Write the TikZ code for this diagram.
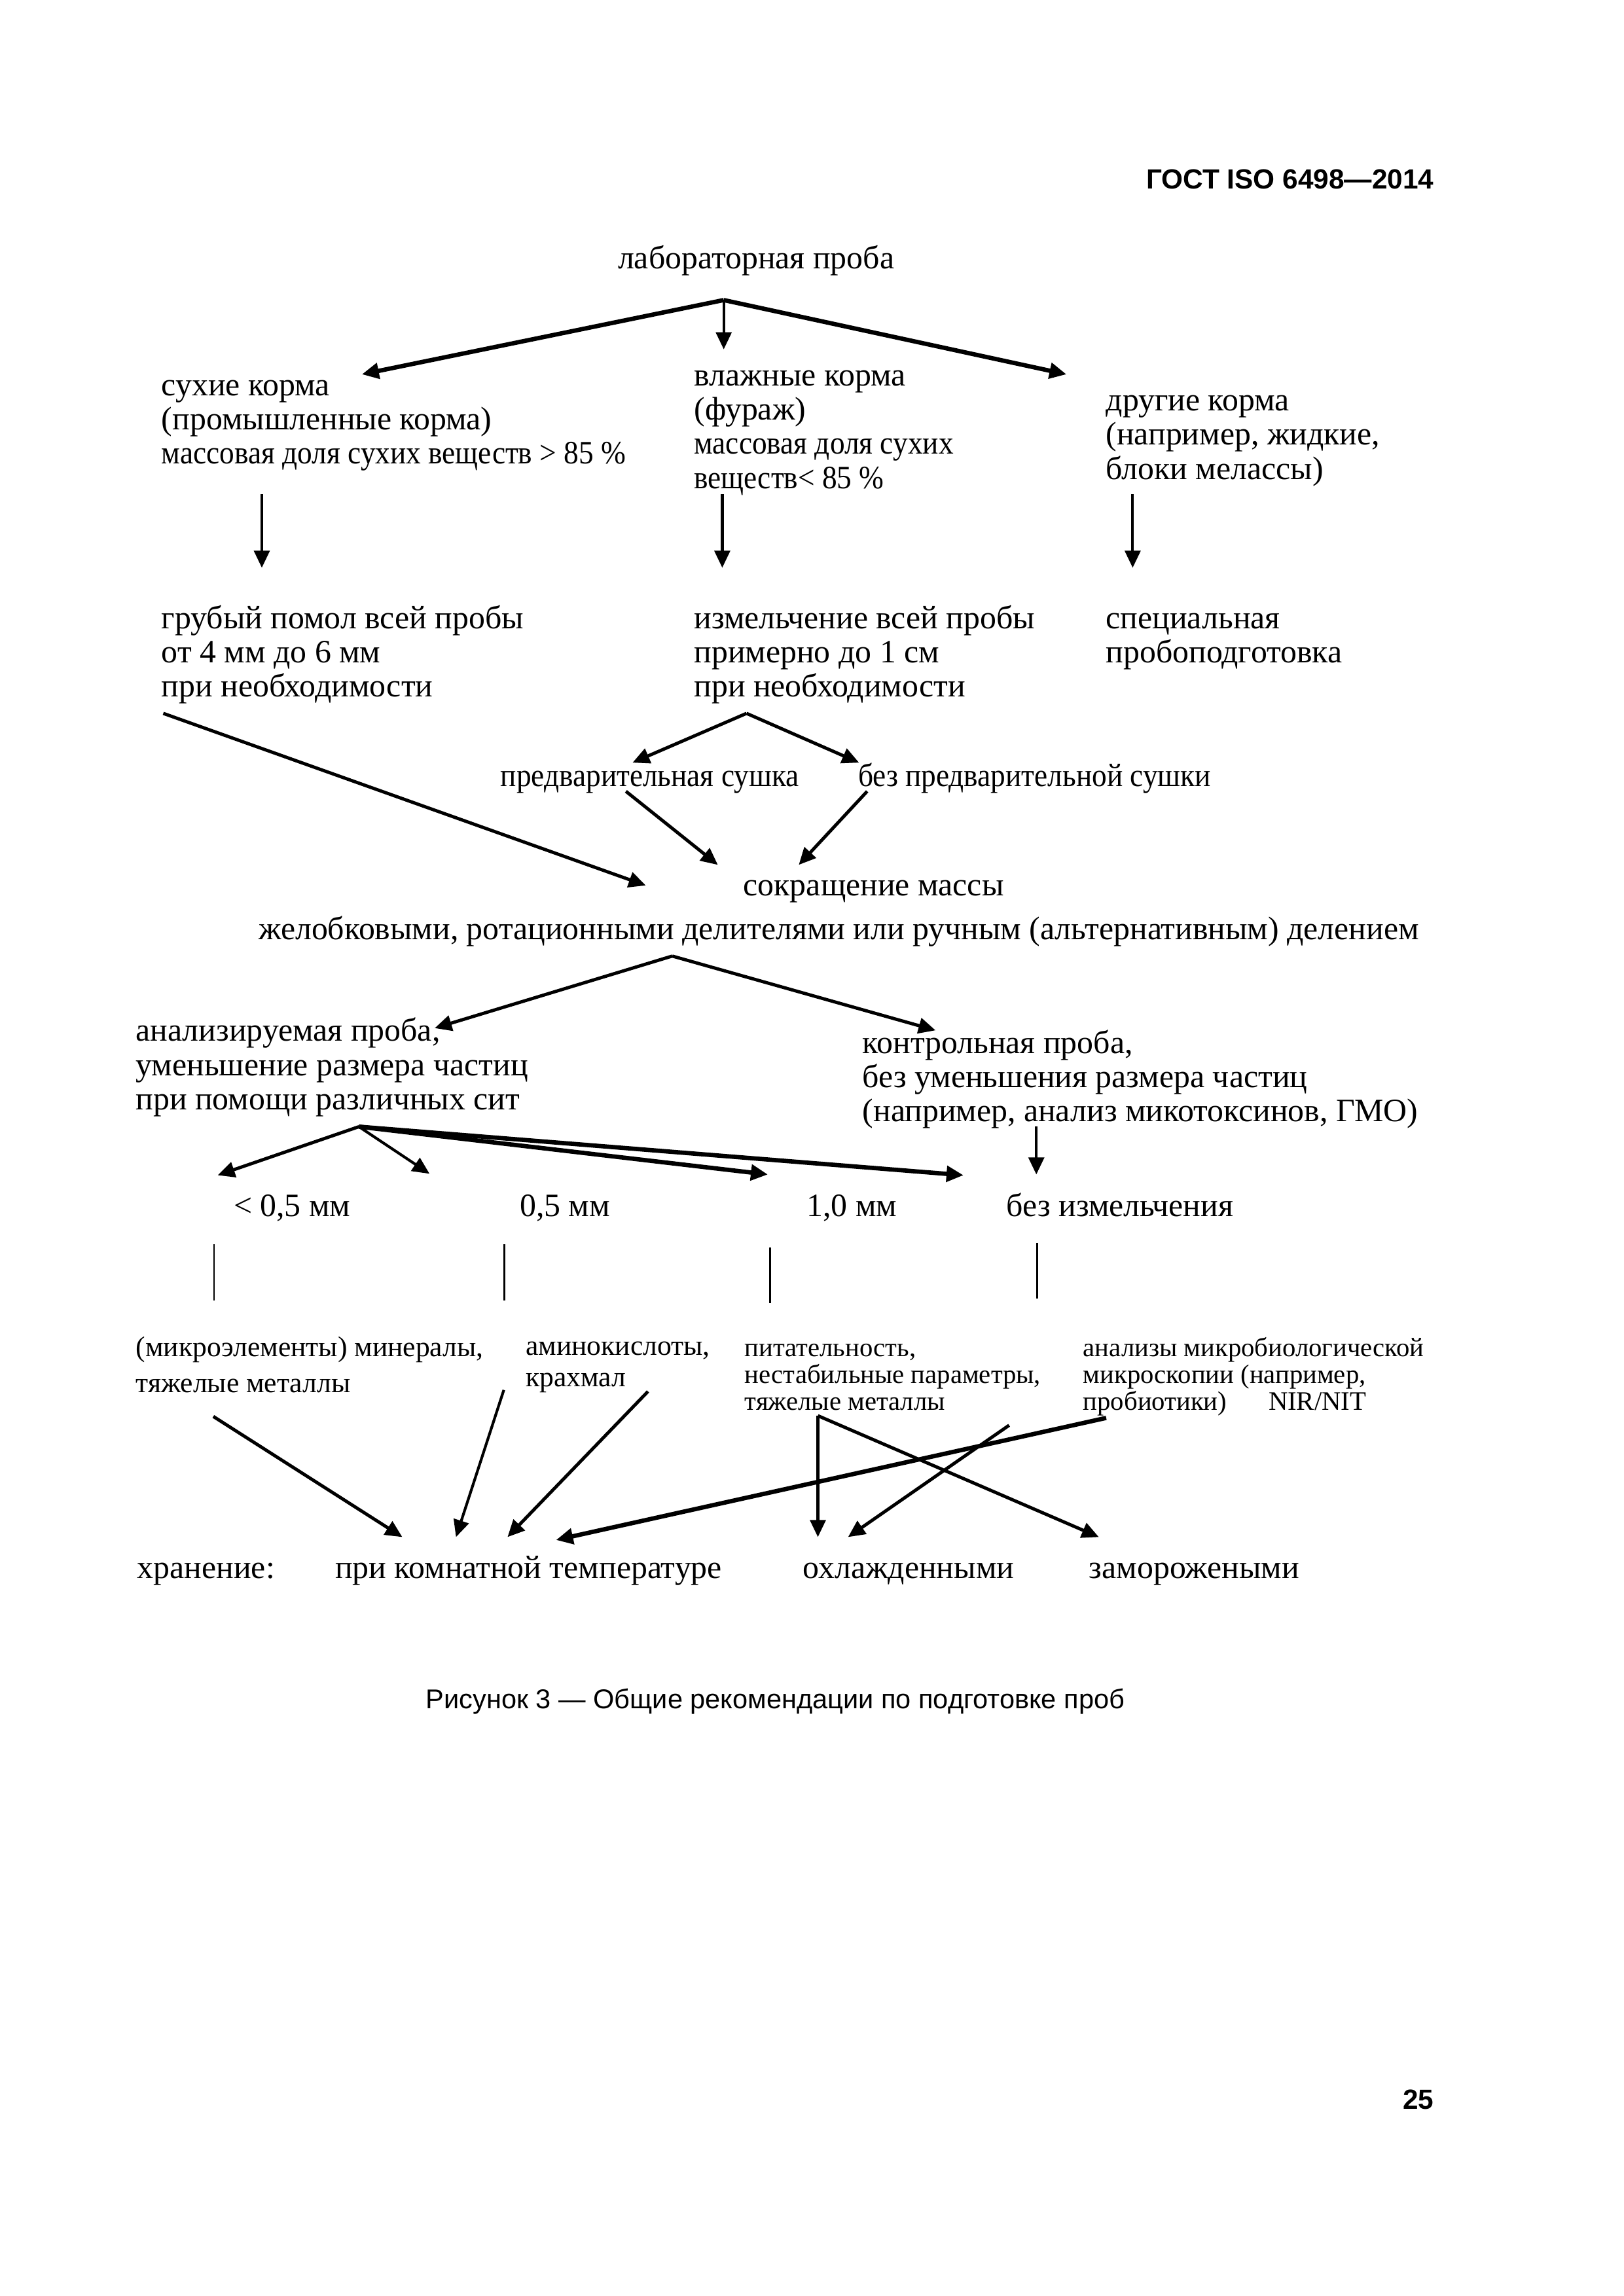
\documentclass[tikz,border=0pt]{standalone}
\usepackage{fontspec}
\setmainfont{Liberation Serif}
\newfontfamily\hsans{Liberation Sans}
\newfontfamily\cnd[FakeStretch=0.91]{Liberation Serif}
\usetikzlibrary{arrows.meta}
\newcommand\tstr{\rule{0pt}{10pt}}
\tikzset{
  txt/.style={inner sep=0pt, font=\fontsize{12}{12.6}\selectfont},
  blk/.style={txt, align=left, anchor=north west, yshift=10pt},
  lbl/.style={txt, anchor=base west},
  smA/.style={font=\fontsize{10.5}{13.2}\selectfont},
  smB/.style={font=\fontsize{10.5}{11.6}\selectfont},
  xs/.style={font=\fontsize{9.8}{9.9}\selectfont},
  tipA/.style={-{Triangle[length=2.2mm,width=2.0mm]}},
  thinar/.style={line width=1.0pt, tipA},
  medar/.style={line width=1.2pt, tipA},
  thickar/.style={line width=1.6pt, tipA},
  plainln/.style={line width=0.7pt},
  hdr/.style={inner sep=0pt, font=\hsans\bfseries\fontsize{10.2}{12}\selectfont},
}
\begin{document}
\begin{tikzpicture}[x=0.19022mm, y=-0.19022mm]
\fill[white] (0,0) rectangle (1104,1561);
\useasboundingbox (0,0) rectangle (1104,1561);

% header, caption, page number
\node[hdr, anchor=base east] (head) at (975,128.5) {ГОСТ ISO 6498—2014};
\node[inner sep=0pt, font=\hsans\fontsize{10}{12}\selectfont, anchor=base] (cap) at (527,1161.7) {Рисунок 3 — Общие рекомендации по подготовке проб};
\node[hdr, anchor=base east] (pnum) at (975,1434) {25};

% level 0
\node[txt, anchor=base] (lab) at (514,182.5) {лабораторная проба};

% level 1
\node[blk] (dry) at (109.5,268.5) {\tstr сухие корма\\(промышленные корма)\\{\cnd массовая доля сухих веществ > 85 \%}};
\node[blk] (wet) at (471.5,261.8) {\tstr влажные корма\\(фураж)\\{\cnd массовая доля сухих}\\{\cnd веществ< 85 \%}};
\node[blk] (oth) at (751.5,278.9) {\tstr другие корма\\(например, жидкие,\\блоки мелассы)};

% level 2
\node[blk] (grind) at (109.5,426.9) {\tstr грубый помол всей пробы\\от 4 мм до 6 мм\\при необходимости};
\node[blk] (chop) at (471.5,426.9) {\tstr измельчение всей пробы\\примерно до 1 см\\при необходимости};
\node[blk] (spec) at (751.5,426.9) {\tstr специальная\\пробоподготовка};

\node[lbl] (predry) at (340,534.7) {\cnd предварительная сушка};
\node[lbl] (nodry) at (583,534.7) {\cnd без предварительной сушки};

\node[lbl] (red1) at (505,608.9) {сокращение массы};
\node[lbl] (red2) at (175.5,638.6) {желобковыми, ротационными делителями или ручным (альтернативным) делением};

\node[blk] (anal) at (92,707.5) {\tstr анализируемая проба,\\уменьшение размера частиц\\при помощи различных сит};
\node[blk] (ctrl) at (586,715.7) {\tstr контрольная проба,\\без уменьшения размера частиц\\(например, анализ микотоксинов, ГМО)};

\node[lbl] (s1) at (158.5,827) {< 0,5 мм};
\node[lbl] (s2) at (353,827) {0,5 мм};
\node[lbl] (s3) at (548,827) {1,0 мм};
\node[lbl] (s4) at (684,827) {без измельчения};

\node[blk, smA] (b1) at (92,921.9) {\tstr (микроэлементы) минералы,\\тяжелые металлы};
\node[blk, smB] (b2) at (357,921.1) {\tstr аминокислоты,\\крахмал};
\node[blk, xs] (b3) at (506,921.9) {\tstr питательность,\\нестабильные параметры,\\тяжелые металлы};
\node[blk, xs] (b4) at (736,921.9) {\tstr анализы микробиологической\\микроскопии (например,\\пробиотики)};
\node[lbl, xs] (nir) at (862,958.5) {NIR/NIT};

\node[lbl] (st0) at (93,1073) {хранение:};
\node[lbl] (st1) at (227.5,1073) {при комнатной температуре};
\node[lbl] (st2) at (545.5,1073) {охлажденными};
\node[lbl] (st3) at (740,1073) {заморожеными};

% coordinates
\coordinate (j1) at (492,204);
\coordinate (t1a) at (246,254.5);
\coordinate (t1b) at (492,237.5);
\coordinate (t1c) at (725,254.5);
\coordinate (v1s) at (178,336); \coordinate (v1e) at (178,386);
\coordinate (v2s) at (491,336); \coordinate (v2e) at (491,386);
\coordinate (v3s) at (770,336); \coordinate (v3e) at (770,386);
\coordinate (g1) at (111,485); \coordinate (g2) at (439,602);
\coordinate (j2) at (507.5,485);
\coordinate (t2a) at (430,518.5); \coordinate (t2b) at (584,518.5);
\coordinate (p1s) at (425.5,538); \coordinate (p1e) at (488,588);
\coordinate (p2s) at (589.5,538); \coordinate (p2e) at (543,588);
\coordinate (j3) at (457,650);
\coordinate (t3a) at (295.5,699); \coordinate (t3b) at (636,700.5);
\coordinate (j4) at (244,766);
\coordinate (t4a) at (148,799); \coordinate (t4b) at (292,798);
\coordinate (t4c) at (522,798.5); \coordinate (t4d) at (655,799);
\coordinate (c1s) at (704.5,766); \coordinate (c1e) at (704.5,798.5);
\coordinate (l1s) at (145.5,846); \coordinate (l1e) at (145.5,884);
\coordinate (l2s) at (343,846); \coordinate (l2e) at (343,884);
\coordinate (l3s) at (523.5,848); \coordinate (l3e) at (523.5,886);
\coordinate (l4s) at (705,845); \coordinate (l4e) at (705,883);
\coordinate (q1s) at (145,963); \coordinate (q1e) at (273.5,1045);
\coordinate (q2s) at (342.5,945); \coordinate (q2e) at (310,1045);
\coordinate (q3s) at (440.5,946); \coordinate (q3e) at (345,1045);
\coordinate (q4s) at (752,964); \coordinate (q4e) at (378,1047);
\coordinate (q5s) at (556,962.5); \coordinate (q5e) at (556,1045);
\coordinate (q6e) at (747,1045);
\coordinate (q7s) at (686,969); \coordinate (q7e) at (576.5,1045);

% connectors
\draw[thickar] (j1) -- (t1a);
\draw[thinar] (j1) -- (t1b);
\draw[thickar] (j1) -- (t1c);
\draw[thinar] (v1s) -- (v1e);
\draw[thinar] (v2s) -- (v2e);
\draw[thinar] (v3s) -- (v3e);
\draw[medar] (g1) -- (g2);
\draw[medar] (j2) -- (t2a);
\draw[medar] (j2) -- (t2b);
\draw[medar] (p1s) -- (p1e);
\draw[medar] (p2s) -- (p2e);
\draw[medar] (j3) -- (t3a);
\draw[medar] (j3) -- (t3b);
\draw[medar] (j4) -- (t4a);
\draw[thinar] (j4) -- (t4b);
\draw[thickar] (j4) -- (t4c);
\draw[thickar] (j4) -- (t4d);
\draw[thinar] (c1s) -- (c1e);
\draw[plainln] (l1s) -- (l1e);
\draw[plainln] (l2s) -- (l2e);
\draw[plainln] (l3s) -- (l3e);
\draw[plainln] (l4s) -- (l4e);
\draw[medar] (q1s) -- (q1e);
\draw[thinar] (q2s) -- (q2e);
\draw[medar] (q3s) -- (q3e);
\draw[thickar] (q4s) -- (q4e);
\draw[thinar] (q5s) -- (q5e);
\draw[medar] (q5s) -- (q6e);
\draw[medar] (q7s) -- (q7e);
\end{tikzpicture}
\end{document}
